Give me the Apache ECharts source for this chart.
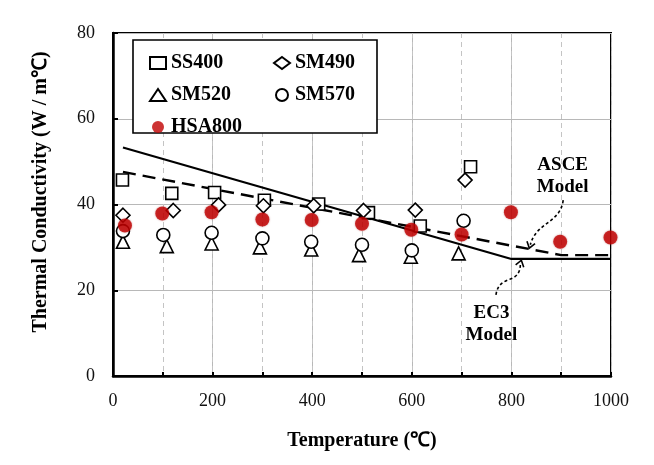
<!DOCTYPE html>
<html><head><meta charset="utf-8">
<script src="https://cdn.jsdelivr.net/npm/echarts@6/dist/echarts.min.js"></script>
<style>html,body{margin:0;padding:0;background:#fff}#c{width:654px;height:465px}</style>
</head><body><div id="c"></div>
<script>
// ---- data (temperature ℃, thermal conductivity W/m℃) ----
const xTicks = [0, 200, 400, 600, 800, 1000];
const yTicks = [0, 20, 40, 60, 80];
const ss400  = [[19,45.7],[118,42.6],[204,42.8],[304,41.0],[413,40.1],[513,38.1],[617,35.0],[718,48.8]];
const sm490  = [[20,37.5],[121,38.6],[212,39.9],[302,39.7],[403,39.7],[503,38.6],[607,38.7],[707,45.7]];
const sm520  = [[20,31.3],[108,30.3],[198,30.9],[295,30.0],[398,29.5],[494,28.2],[598,27.8],[694,28.6]];
const sm570  = [[20,33.8],[101,32.9],[198,33.4],[300,32.1],[398,31.3],[500,30.6],[600,29.3],[704,36.2]];
const hsa800 = [[24,35.1],[99,37.9],[198,38.2],[300,36.5],[399,36.4],[500,35.5],[599,34.1],[700,33.0],[799,38.2],[898,31.3],[999,32.3]];
const ec3Model  = [[20,53.3],[800,27.3],[1000,27.3]];
const asceModel = [[20,47.6],[900,28.2],[1000,28.2]];

const FONT = '"Liberation Serif","Times New Roman",serif';
const chart = echarts.init(document.getElementById('c'), null, {renderer:'canvas'});
const open = (sym, size) => ({
  type:'scatter', symbol:sym, symbolSize:size, z:5,
  itemStyle:{color:'#fff', borderColor:'#000', borderWidth:1.6, opacity:1}
});
const legendBase = {
  orient:'vertical', top:48, z:20,
  itemWidth:16, itemHeight:12, itemGap:12,
  textStyle:{color:'#000', fontFamily:FONT, fontSize:20, fontWeight:'bold', lineHeight:20}
};
const option = {
  backgroundColor:'#fff',
  animation:false,
  grid:{left:113, right:43, top:33, bottom:89, show:true, borderColor:'#000', borderWidth:2, backgroundColor:'transparent'},
  xAxis:[{
    type:'value', min:0, max:1000, interval:200, position:'bottom',
    axisLine:{show:true, lineStyle:{color:'#000', width:2.5}},
    axisTick:{show:false},
    axisLabel:{color:'#111', fontFamily:FONT, fontSize:18, margin:16, formatter:v => String(v)},
    splitLine:{show:true, lineStyle:{color:'#b8b8b8', width:1}},
    name:'Temperature (℃)', nameLocation:'middle', nameGap:55,
    nameTextStyle:{color:'#000', fontFamily:FONT, fontSize:20, fontWeight:'bold'}
  },{
    type:'value', min:0, max:1000, interval:100, position:'bottom',
    axisLine:{show:false}, axisLabel:{show:false},
    axisTick:{show:true, inside:true, length:4, lineStyle:{color:'#000', width:2}},
    splitLine:{show:true, lineStyle:{color:'#c4c4c4', width:1, type:[5,4]}}
  }],
  yAxis:{
    type:'value', min:0, max:80, interval:20,
    axisLine:{show:true, lineStyle:{color:'#000', width:2.5}},
    axisTick:{show:true, inside:true, length:5, lineStyle:{color:'#000', width:2}},
    axisLabel:{color:'#111', fontFamily:FONT, fontSize:18, margin:18, formatter:v => String(v)},
    splitLine:{show:true, lineStyle:{color:'#b8b8b8', width:1}}
  },
  legend:[
    Object.assign({data:['SS400','SM520','HSA800'], left:144}, legendBase),
    Object.assign({data:['SM490','SM570'], left:268}, legendBase)
  ],
  series:[
    {name:'EC3', type:'line', data:ec3Model, symbol:'none', z:3, lineStyle:{color:'#000', width:2.2}},
    {name:'ASCE', type:'line', data:asceModel, symbol:'none', z:3, lineStyle:{color:'#000', width:2.4, type:[13,7]}},
    Object.assign(open('rect',12), {name:'SS400', data:ss400}),
    Object.assign(open('diamond',14), {name:'SM490', data:sm490}),
    Object.assign(open('triangle',13), {name:'SM520', data:sm520}),
    Object.assign(open('circle',13), {name:'SM570', data:sm570}),
    {name:'HSA800', type:'scatter', symbol:'circle', symbolSize:14, z:6,
     itemStyle:{color:'#C00000', shadowBlur:2, shadowColor:'rgba(150,0,0,0.5)'}, data:hsa800}
  ]
};
chart.setOption(option);

// ---- annotations (legend frame, axis title, model labels, curved arrows) ----
const P = (x, y) => chart.convertToPixel({xAxisIndex:0, yAxisIndex:0}, [x, y]);
function arrow(pts, headTo, headFrom){
  const els = [{
    type:'bezierCurve', z:10,
    shape:{x1:pts[0][0], y1:pts[0][1], cpx1:pts[1][0], cpy1:pts[1][1], cpx2:pts[2][0], cpy2:pts[2][1], x2:pts[3][0], y2:pts[3][1]},
    style:{stroke:'#000', lineWidth:1.6, lineDash:[3,2.5], fill:null}
  }];
  const dx = headTo[0]-headFrom[0], dy = headTo[1]-headFrom[1];
  const L = Math.hypot(dx,dy), ux = dx/L, uy = dy/L, s = 6;
  els.push({type:'polyline', z:10, shape:{points:[
    [headTo[0]-ux*s - uy*s*0.7, headTo[1]-uy*s + ux*s*0.7],
    headTo,
    [headTo[0]-ux*s + uy*s*0.7, headTo[1]-uy*s - ux*s*0.7]
  ]}, style:{stroke:'#000', lineWidth:1.6, fill:null}});
  return els;
}
const aS = P(904,41.0), aC1 = P(898,35.5), aC2 = P(850,36), aE = P(838,30.6), aH = P(836,29.8);
const eS = P(769,18.9), eC1 = P(775,24), eC2 = P(818,21), eE = P(818,26.2), eH = P(820,27.0);
const lab = (txt, x, y) => ({type:'text', z:10, style:{text:txt, x:x, y:y, textAlign:'center', textVerticalAlign:'middle',
  font:'bold 19px ' + FONT, lineHeight:22, fill:'#000'}});
const asceLbl = P(903,46.6), ec3Lbl = P(760,12.0);
chart.setOption({graphic:[
  {type:'rect', z:1, shape:{x:133, y:40, width:244, height:93}, style:{fill:'#fff', stroke:'#000', lineWidth:1.6}},
  {type:'text', z:10, x:41, y:192, rotation:Math.PI/2,
   style:{text:'Thermal Conductivity (W / m℃)', textAlign:'center', textVerticalAlign:'middle', font:'bold 20px ' + FONT, fill:'#000'}},
  lab('ASCE\nModel', asceLbl[0], asceLbl[1]),
  lab('EC3\nModel', ec3Lbl[0], ec3Lbl[1]),
  ...arrow([aS, aC1, aC2, aE], aH, aE),
  ...arrow([eS, eC1, eC2, eE], eH, eE)
]});
</script>
</body></html>
